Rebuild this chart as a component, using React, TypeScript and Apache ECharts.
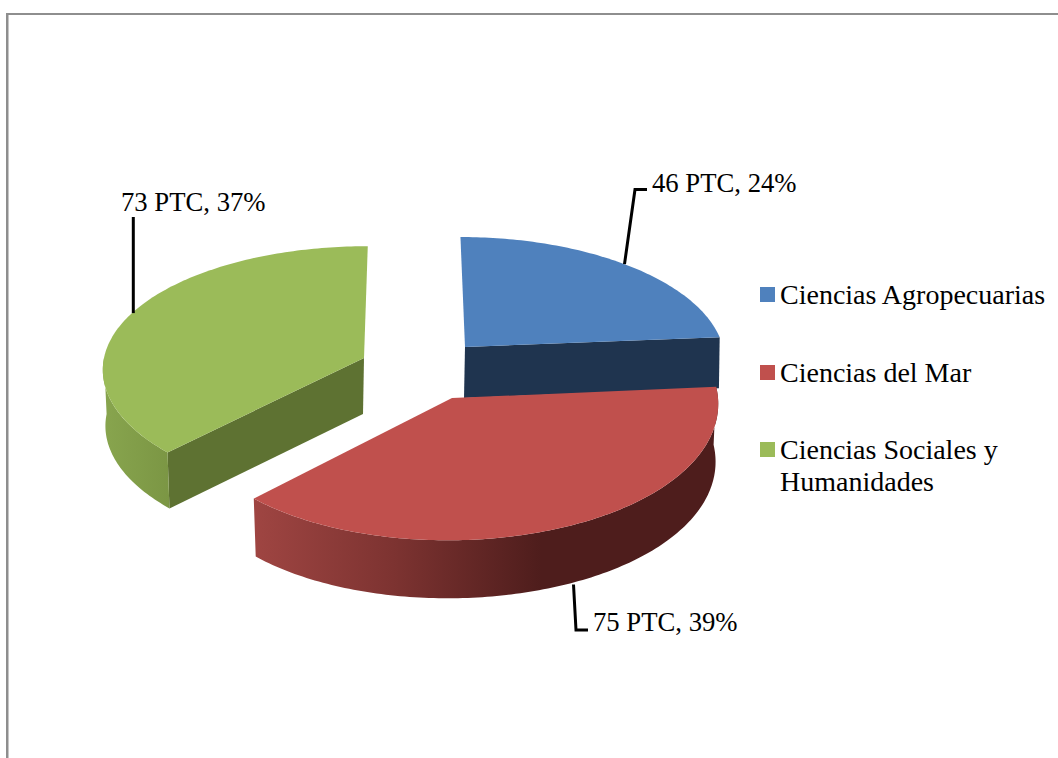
import React, { useEffect, useRef } from "react";
import * as echarts from "echarts";

const categories = ["Ciencias Agropecuarias", "Ciencias del Mar", "Ciencias Sociales y Humanidades"];
const legendLabels = ["Ciencias Agropecuarias", "Ciencias del Mar", "\nCiencias Sociales y\nHumanidades"];
const ptcValues = [46, 75, 73];
const percentLabels = [24, 39, 37];

const FONT = "'Liberation Serif'";
const LABEL_SIZE = 26.7;
const LEGEND_SIZE = 28;
const VP_X = 415;
const total = ptcValues.reduce((a, b) => a + b, 0);

type Look = {
  cx: number; cy: number; rx: number; ry: number; kx: number; ky: number; q: number; h: number;
  bottomScale: number; top: string; radial: string; wall: any; wallTo?: number;
  leader: number[][]; labelX: number; labelY: number; anchorBottom: boolean;
};

const hGrad = (stops: [number, string][]) => ({
  type: "linear", x: 0, y: 0, x2: 1, y2: 0,
  colorStops: stops.map(([offset, color]) => ({ offset, color })),
});

const looks: Look[] = [
  {
    cx: 465, cy: 347, rx: 258, ry: 121, kx: 0.1, ky: 0.1, q: 0, h: 51, bottomScale: 0.997,
    top: "#4F81BD", radial: "#1F344F", wall: "#1F344F",
    leader: [[635, 189.5], [647, 189.5]], labelX: 652, labelY: 183, anchorBottom: false,
  },
  {
    cx: 452, cy: 398, rx: 266, ry: 138, kx: 0.06, ky: 0.03, q: 7, h: 58, bottomScale: 0.99,
    top: "#C0504D", radial: "#943D3B",
    wall: hGrad([[0, "#9F4542"], [0.3, "#7D3331"], [0.62, "#4E1D1C"], [1, "#4E1D1C"]]),
    leader: [[576, 630], [588, 630]], labelX: 593, labelY: 622, anchorBottom: true,
  },
  {
    cx: 364, cy: 358, rx: 260, ry: 123, kx: 0.08, ky: 0.1, q: 0, h: 56, bottomScale: 0.99,
    top: "#9BBB59", radial: "#5E7232", wall: hGrad([[0, "#88A54E"], [1, "#7B9644"]]),
    wallTo: 270,
    leader: [[133.3, 217]], labelX: 121, labelY: 202, anchorBottom: false,
  },
];

function angles(i: number) {
  const before = ptcValues.slice(0, i).reduce((a, b) => a + b, 0);
  return [(before / total) * 360, ((before + ptcValues[i]) / total) * 360];
}

function project(l: Look, deg: number, bottom = false): number[] {
  const t = (deg * Math.PI) / 180;
  const s = Math.sin(t);
  const c = Math.cos(t);
  const rx = bottom ? l.rx * l.bottomScale : l.rx;
  const x = VP_X + (l.cx - VP_X + rx * s) / (1 + l.kx * c) + l.q * c;
  const y = l.cy - (l.ry * c) / (1 + l.ky * c) + (bottom ? l.h : 0);
  return [x, y];
}

function arc(l: Look, a: number, b: number, bottom = false): number[][] {
  const pts: number[][] = [];
  const n = Math.max(2, Math.ceil(Math.abs(b - a)));
  for (let j = 0; j <= n; j++) pts.push(project(l, a + ((b - a) * j) / n, bottom));
  return pts;
}

const renderSlice = (i: number) => (_params: any, api: any) => {
  const l = looks[i];
  api.value(0);
  const [a0, a1] = angles(i);
  const apex = [l.cx, l.cy];
  const apexLow = [l.cx - 1, l.cy + l.h];
  const children: any[] = [];

  const edgeDeg = i === 0 ? a1 : a0;
  if (i !== 1) {
    children.push({
      type: "polygon",
      shape: { points: [apex, project(l, edgeDeg), project(l, edgeDeg, true), apexLow] },
      style: { fill: l.radial },
    });
  }
  if (i !== 0) {
    const to = l.wallTo ?? a1;
    const wallPts = [...arc(l, a0, to), ...arc(l, a0, to, true).reverse()];
    children.push({ type: "polygon", shape: { points: wallPts }, style: { fill: l.wall } });
  }
  children.push({
    type: "polygon",
    shape: { points: [apex, ...arc(l, a0, a1)] },
    style: { fill: l.top },
  });
  return { type: "group", children };
};

const renderLabel = (i: number) => (_params: any, api: any) => {
  const l = looks[i];
  const [a0, a1] = angles(i);
  const value = api.value(0);
  const p = project(l, (a0 + a1) / 2, l.anchorBottom);
  // the leader's start follows the slice's middle angle, its x is aligned with the elbow
  const anchor = [i === 0 ? p[0] : l.leader[0][0] - (i === 1 ? 2.5 : 0), p[1]];
  return {
    type: "group",
    children: [
      {
        type: "polyline",
        shape: { points: [anchor, ...l.leader] },
        style: { stroke: "#000", lineWidth: 3, fill: "none" },
      },
      {
        type: "text",
        style: {
          x: l.labelX, y: l.labelY,
          text: `${value} PTC, ${percentLabels[i]}%`,
          font: `${LABEL_SIZE}px ${FONT}`,
          fill: "#000",
          textAlign: "left", textVerticalAlign: "middle",
        },
      },
    ],
  };
};

const drawOrder = [2, 0, 1];
const legendTops = [273.5, 351.5, 396.5];

export default function App() {
  const ref = useRef<HTMLDivElement>(null);
  useEffect(() => {
    document.body.style.margin = "0";
    const chart = echarts.init(ref.current!, undefined, { renderer: "svg" });
    const sliceSeries = drawOrder.map((i) => ({
      type: "custom",
      name: categories[i],
      coordinateSystem: "none",
      z: 2 + drawOrder.indexOf(i),
      color: looks[i].top,
      itemStyle: { color: looks[i].top },
      silent: true,
      data: [[ptcValues[i]]],
      renderItem: renderSlice(i),
    }));
    const labelSeries = categories.map((c, i) => ({
      type: "custom",
      name: `${c} rótulo`,
      coordinateSystem: "none",
      z: i === 1 ? 1 : 10,
      silent: true,
      data: [[ptcValues[i]]],
      renderItem: renderLabel(i),
    }));
    chart.setOption({
      animation: false,
      backgroundColor: "#fff",
      graphic: [
        { type: "rect", z: 0, shape: { x: 6, y: 13, width: 1052, height: 2 }, style: { fill: "#8E8E8E" } },
        { type: "rect", z: 0, shape: { x: 6, y: 13, width: 2.5, height: 745 }, style: { fill: "#8E8E8E" } },
      ],
      legend: categories.map((c, i) => ({
        left: 755,
        top: legendTops[i],
        orient: "vertical",
        itemWidth: 15,
        itemHeight: 15,
        itemGap: 0,
        selectedMode: false,
        icon: "rect",
        data: [{ name: c }],
        formatter: () => legendLabels[i],
        textStyle: { fontFamily: FONT, fontSize: LEGEND_SIZE, color: "#000", lineHeight: 32 },
      })),
      series: [...sliceSeries, ...labelSeries],
    });
    return () => chart.dispose();
  }, []);
  return <div ref={ref} style={{ width: 1058, height: 758 }} />;
}
